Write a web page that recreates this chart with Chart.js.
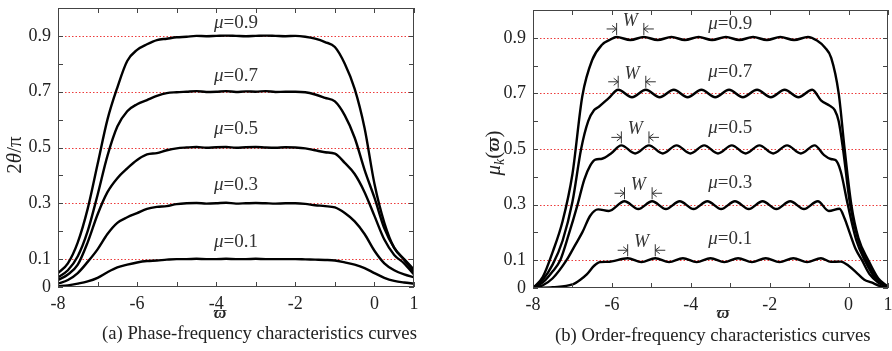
<!DOCTYPE html>
<html>
<head>
<meta charset="utf-8">
<script src="https://cdn.jsdelivr.net/npm/chart.js@4.4.1/dist/chart.umd.min.js"></script>
<style>
  html, body { margin: 0; padding: 0; background: #fff; }
  #wrap { position: relative; width: 892px; height: 351px; overflow: hidden; }
  .panel { position: absolute; top: 0; width: 446px; height: 351px; }
</style>
</head>
<body>
<div id="wrap">
  <div class="panel" style="left:0"><canvas id="chart-phase" width="446" height="351"></canvas></div>
  <div class="panel" style="left:446px"><canvas id="chart-order" width="446" height="351"></canvas></div>
</div>
<script>
const SERIF = '"Liberation Serif", "Times New Roman", serif';
Chart.defaults.font.family = SERIF;
Chart.defaults.color = '#222';

// ---- datos ----
const muValues = [0.9, 0.7, 0.5, 0.3, 0.1];
const xTickLabels = [-8, -6, -4, -2, 0, 1];
const yTickLabels = [0, 0.1, 0.3, 0.5, 0.7, 0.9];
const guideLines = [0.1, 0.3, 0.5, 0.7, 0.9];

// (a) fase-frecuencia: malla común de abscisas
const phaseX = [-8, -7.75, -7.5, -7.25, -7, -6.75, -6.5, -6.25, -6, -5.75, -5.5, -5.25, -5, -4.75, -4.5, -4.25,
  -4, -3.75, -3.5, -3.25, -3, -2.75, -2.5, -2.25, -2, -1.75, -1.5, -1.25, -1, -0.75, -0.5, -0.25, 0, 0.25, 0.5, 0.75, 1];
const phaseMu09 = [0.05, 0.085, 0.16, 0.28, 0.44, 0.6, 0.715, 0.81, 0.85, 0.87, 0.885, 0.89, 0.895, 0.897, 0.9, 0.899,
  0.9, 0.901, 0.9, 0.899, 0.9, 0.901, 0.9, 0.899, 0.9, 0.897, 0.89, 0.878, 0.86, 0.80, 0.71, 0.57, 0.37, 0.23, 0.14, 0.1, 0.063];
const phaseMu07 = [0.035, 0.06, 0.11, 0.2, 0.33, 0.47, 0.575, 0.63, 0.655, 0.67, 0.685, 0.695, 0.698, 0.7, 0.702, 0.699,
  0.7, 0.702, 0.699, 0.701, 0.7, 0.702, 0.699, 0.7, 0.7, 0.698, 0.69, 0.678, 0.665, 0.615, 0.535, 0.42, 0.32, 0.21, 0.14, 0.098, 0.055];
const phaseMu05 = [0.025, 0.045, 0.08, 0.16, 0.26, 0.34, 0.39, 0.425, 0.455, 0.475, 0.48, 0.49, 0.497, 0.5, 0.502, 0.499,
  0.501, 0.502, 0.499, 0.501, 0.502, 0.5, 0.499, 0.501, 0.5, 0.497, 0.49, 0.483, 0.478, 0.445, 0.405, 0.34, 0.255, 0.17, 0.115, 0.085, 0.045];
const phaseMu03 = [0.012, 0.025, 0.05, 0.09, 0.135, 0.19, 0.23, 0.25, 0.265, 0.28, 0.287, 0.29, 0.297, 0.3, 0.301, 0.299,
  0.3, 0.302, 0.299, 0.3, 0.301, 0.3, 0.299, 0.3, 0.3, 0.298, 0.293, 0.29, 0.285, 0.265, 0.235, 0.19, 0.13, 0.085, 0.06, 0.045, 0.035];
const phaseMu01 = [0.003, 0.006, 0.012, 0.02, 0.033, 0.053, 0.07, 0.08, 0.088, 0.093, 0.095, 0.098, 0.1, 0.1, 0.101, 0.1,
  0.1, 0.101, 0.1, 0.1, 0.101, 0.1, 0.1, 0.1, 0.1, 0.099, 0.098, 0.097, 0.095, 0.088, 0.08, 0.068, 0.05, 0.033, 0.022, 0.016, 0.012];
const phaseLabelX = [-3.5, -3.5, -3.5, -3.5, -3.5];
const phaseLabelY = [0.946, 0.756, 0.565, 0.366, 0.162];

// (b) orden-frecuencia: cada curva con sus picos y valles
const orderX09 = [-8, -7.75, -7.5, -7.25, -7, -6.75, -6.5, -6.25, -6.05, -5.88, -5.53, -5.19, -4.84, -4.49, -4.15, -3.8,
  -3.46, -3.11, -2.77, -2.42, -2.07, -1.73, -1.38, -1.03, -0.8, -0.6, -0.44, -0.25, -0.1, 0.07, 0.25, 0.5, 0.75, 1];
const orderMu09 = [0, 0.04, 0.13, 0.24, 0.41, 0.69, 0.82, 0.875, 0.893, 0.903, 0.892, 0.903, 0.892, 0.903, 0.892, 0.903,
  0.892, 0.903, 0.892, 0.903, 0.892, 0.903, 0.892, 0.903, 0.89, 0.865, 0.828, 0.70, 0.5, 0.3, 0.18, 0.1, 0.035, 0.005];
const orderX07 = [-8, -7.75, -7.5, -7.25, -7, -6.78, -6.6, -6.45, -6.33, -6.08, -5.84, -5.49, -5.14, -4.79, -4.43, -4.08,
  -3.73, -3.38, -3.03, -2.68, -2.32, -1.97, -1.62, -1.27, -0.92, -0.7, -0.47, -0.35, -0.25, -0.14, 0.04, 0.25, 0.45, 0.75, 1];
const orderMu07 = [0, 0.03, 0.085, 0.17, 0.31, 0.5, 0.6, 0.64, 0.652, 0.683, 0.713, 0.686, 0.713, 0.686, 0.713, 0.686,
  0.713, 0.686, 0.713, 0.686, 0.713, 0.686, 0.713, 0.686, 0.713, 0.675, 0.655, 0.64, 0.6, 0.5, 0.3, 0.17, 0.1, 0.03, 0.004];
const orderX05 = [-8, -7.75, -7.5, -7.31, -7.1, -6.87, -6.7, -6.55, -6.42, -6.25, -6.03, -5.76, -5.41, -5.06, -4.71, -4.36,
  -4.01, -3.66, -3.31, -2.96, -2.61, -2.26, -1.91, -1.56, -1.21, -0.86, -0.62, -0.45, -0.33, -0.2, -0.02, 0.2, 0.41, 0.7, 1];
const orderMu05 = [0, 0.02, 0.06, 0.1, 0.19, 0.3, 0.39, 0.44, 0.462, 0.465, 0.483, 0.513, 0.484, 0.513, 0.484, 0.513,
  0.484, 0.513, 0.484, 0.513, 0.484, 0.513, 0.484, 0.513, 0.484, 0.513, 0.478, 0.464, 0.46, 0.42, 0.3, 0.17, 0.1, 0.03, 0.003];
const orderX03 = [-8, -7.75, -7.5, -7.15, -6.95, -6.75, -6.55, -6.35, -6.08, -5.68, -5.33, -4.98, -4.63, -4.28, -3.93, -3.58,
  -3.23, -2.88, -2.53, -2.18, -1.83, -1.48, -1.13, -0.78, -0.5, -0.23, -0.1, 0.025, 0.18, 0.34, 0.53, 0.75, 1];
const orderMu03 = [0, 0.01, 0.035, 0.1, 0.15, 0.2, 0.26, 0.283, 0.277, 0.312, 0.284, 0.312, 0.284, 0.312, 0.284, 0.312,
  0.284, 0.312, 0.284, 0.312, 0.284, 0.312, 0.284, 0.312, 0.277, 0.285, 0.25, 0.2, 0.14, 0.1, 0.05, 0.02, 0.002];
const orderX01 = [-8, -7.5, -7, -6.8, -6.63, -6.45, -6.3, -6.1, -5.6, -5.25, -4.9, -4.55, -4.2, -3.85, -3.5, -3.15,
  -2.8, -2.45, -2.1, -1.75, -1.4, -1.05, -0.7, -0.45, -0.2, 0, 0.24, 0.4, 0.58, 0.8, 1];
const orderMu01 = [0, 0.003, 0.013, 0.03, 0.05, 0.08, 0.093, 0.094, 0.107, 0.093, 0.107, 0.093, 0.107, 0.093, 0.107, 0.093,
  0.107, 0.093, 0.107, 0.093, 0.107, 0.093, 0.107, 0.094, 0.095, 0.08, 0.05, 0.03, 0.02, 0.007, 0.001];
const orderLabelX = [-3.0, -3.0, -3.0, -3.0, -3.0];
const orderLabelY = [0.948, 0.776, 0.576, 0.376, 0.177];
// marcas de periodo W (primer y segundo pico de cada curva)
const wLeftX = [-5.88, -5.84, -5.76, -5.68, -5.6];
const wRightX = [-5.19, -5.14, -5.06, -4.98, -4.9];
const wPeakY = [0.903, 0.713, 0.513, 0.312, 0.107];

// ---- dibujo ----
const font = (size, style = '', weight = '') => `${style} ${weight} ${size}px ${SERIF}`.trim();
const pts = (xs, ys) => xs.map((x, i) => ({ x, y: ys[i] }));
const near = (v, list) => list.some(l => Math.abs(l - v) < 1e-6);

// texto con tramos de distinto estilo, centrado en (x, y)
function runs(ctx, parts, x, y, align = 'center') {
  let total = 0;
  parts.forEach(p => { ctx.font = p.f; p.w = ctx.measureText(p.t).width; total += p.w; });
  let cx = align === 'center' ? x - total / 2 : x;
  ctx.textAlign = 'left';
  ctx.textBaseline = 'middle';
  parts.forEach(p => { ctx.font = p.f; ctx.fillText(p.t, cx, y + (p.dy || 0)); cx += p.w; });
}

function arrowMark(ctx, px, py, dir) {
  // dir = +1: flecha desde la izquierda; -1: desde la derecha
  const ay = py - 8;
  ctx.beginPath();
  ctx.moveTo(px, py - 2); ctx.lineTo(px, py - 14);
  ctx.moveTo(px - dir * 10, ay); ctx.lineTo(px, ay);
  ctx.moveTo(px - dir * 4.5, ay - 3.5); ctx.lineTo(px, ay); ctx.lineTo(px - dir * 4.5, ay + 3.5);
  ctx.stroke();
}

const decor = {
  id: 'decor',
  beforeDatasetsDraw(chart) {
    const { ctx, chartArea: a, scales: { y } } = chart;
    ctx.save();
    ctx.strokeStyle = '#ec3b3b';
    ctx.lineWidth = 1;
    ctx.setLineDash([1.5, 2]);
    guideLines.forEach(v => {
      const py = Math.round(y.getPixelForValue(v)) + 0.5;
      ctx.beginPath(); ctx.moveTo(a.left, py); ctx.lineTo(a.right, py); ctx.stroke();
    });
    ctx.restore();
  },
  afterDraw(chart, args, o) {
    const { ctx, chartArea: a, scales: { x, y } } = chart;
    ctx.save();
    // marco y marcas interiores
    ctx.strokeStyle = '#444';
    ctx.lineWidth = 1;
    ctx.strokeRect(a.left + 0.5, a.top + 0.5, a.right - a.left - 1, a.bottom - a.top - 1);
    ctx.beginPath();
    x.ticks.forEach(t => {
      const px = Math.round(x.getPixelForValue(t.value)) + 0.5;
      ctx.moveTo(px, a.bottom); ctx.lineTo(px, a.bottom - 5);
      ctx.moveTo(px, a.top); ctx.lineTo(px, a.top + 5);
    });
    y.ticks.forEach(t => {
      const py = Math.round(y.getPixelForValue(t.value)) + 0.5;
      ctx.moveTo(a.left, py); ctx.lineTo(a.left + 5, py);
      ctx.moveTo(a.right, py); ctx.lineTo(a.right - 5, py);
    });
    ctx.stroke();

    // etiquetas mu=...
    ctx.fillStyle = '#333';
    muValues.forEach((m, i) => {
      runs(ctx, [{ t: 'μ', f: font(19, 'italic') }, { t: '=' + m, f: font(19) }],
        x.getPixelForValue(o.labelX[i]), y.getPixelForValue(o.labelY[i]));
    });

    // marcas W
    if (o.wMarks) {
      ctx.strokeStyle = '#333';
      ctx.lineWidth = 1;
      wLeftX.forEach((xl, i) => {
        const pl = x.getPixelForValue(xl), pr = x.getPixelForValue(wRightX[i]);
        const py = y.getPixelForValue(wPeakY[i]);
        arrowMark(ctx, pl, py, 1);
        arrowMark(ctx, pr, py, -1);
        runs(ctx, [{ t: 'W', f: font(18, 'italic') }], (pl + pr) / 2, py - 16);
      });
    }

    // títulos de ejes
    ctx.fillStyle = '#222';
    runs(ctx, [{ t: 'ϖ', f: font(17, 'italic', 'bold') }], o.xTitle[0], o.xTitle[1]);
    ctx.save();
    ctx.translate(o.yTitle[0], o.yTitle[1]);
    ctx.rotate(-Math.PI / 2);
    if (o.kind === 'phase') {
      runs(ctx, [{ t: '2', f: font(21) }, { t: 'θ', f: font(21, 'italic') }, { t: '/π', f: font(21) }], 0, 0);
    } else {
      runs(ctx, [{ t: 'μ', f: font(21, 'italic') }, { t: 'k', f: font(14, 'italic'), dy: 6 },
        { t: '(', f: font(21) }, { t: 'ϖ', f: font(19, 'italic', 'bold') }, { t: ')', f: font(21) }], 0, 0);
    }
    ctx.restore();

    // pie de figura
    runs(ctx, [{ t: o.caption, f: font(18.7) }], o.captionPos[0], o.captionPos[1], 'left');
    ctx.restore();
  },
};

let charts = {};
function make(id, cfg) {
  charts[id]?.destroy();
  charts[id] = new Chart(document.getElementById(id), cfg);
}

function curve(data) {
  return { data, borderColor: '#000', borderWidth: 2.4, pointRadius: 0, fill: false, cubicInterpolationMode: 'monotone' };
}

function panelOpts(geom, decorOpts) {
  return {
    responsive: false,
    devicePixelRatio: 1,
    animation: false,
    events: [],
    layout: { padding: { left: 0, right: geom.right, top: geom.top, bottom: 0 } },
    plugins: { legend: { display: false }, tooltip: { enabled: false }, decor: decorOpts },
    scales: {
      x: {
        type: 'linear', min: -8, max: 1,
        grid: { display: false, drawTicks: false }, border: { display: false },
        ticks: {
          stepSize: 1, autoSkip: false, maxRotation: 0, padding: 6, color: '#222',
          font: { size: 18, family: SERIF },
          callback: v => (near(v, xTickLabels) ? String(Math.round(v)) : ''),
        },
        afterFit: s => { s.height = geom.xAxisH; s.paddingLeft = 0; s.paddingRight = 0; },
      },
      y: {
        type: 'linear', min: 0, max: 1,
        grid: { display: false, drawTicks: false }, border: { display: false },
        ticks: {
          stepSize: 0.1, autoSkip: false, padding: 7, color: '#222',
          font: { size: 18, family: SERIF, lineHeight: 1 },
          callback: v => (near(v, yTickLabels) ? String(Math.round(v * 10) / 10) : ''),
        },
        afterFit: s => { s.width = geom.left; s.paddingTop = 0; s.paddingBottom = 0; },
      },
    },
  };
}

make('chart-phase', {
  type: 'line',
  data: {
    datasets: [
      curve(pts(phaseX, phaseMu09)), curve(pts(phaseX, phaseMu07)), curve(pts(phaseX, phaseMu05)),
      curve(pts(phaseX, phaseMu03)), curve(pts(phaseX, phaseMu01)),
    ],
  },
  options: panelOpts({ left: 58, right: 32, top: 8, xAxisH: 64 }, {
    kind: 'phase', labelX: phaseLabelX, labelY: phaseLabelY, wMarks: false,
    xTitle: [220, 314], yTitle: [15, 155],
    caption: '(a) Phase-frequency characteristics curves', captionPos: [102, 334],
  }),
  plugins: [decor],
});

make('chart-order', {
  type: 'line',
  data: {
    datasets: [
      curve(pts(orderX09, orderMu09)), curve(pts(orderX07, orderMu07)), curve(pts(orderX05, orderMu05)),
      curve(pts(orderX03, orderMu03)), curve(pts(orderX01, orderMu01)),
    ],
  },
  options: panelOpts({ left: 87, right: 4, top: 10, xAxisH: 63 }, {
    kind: 'order', labelX: orderLabelX, labelY: orderLabelY, wMarks: true,
    xTitle: [277, 314], yTitle: [48, 153],
    caption: '(b) Order-frequency characteristics curves', captionPos: [109, 336],
  }),
  plugins: [decor],
});
</script>
</body>
</html>
